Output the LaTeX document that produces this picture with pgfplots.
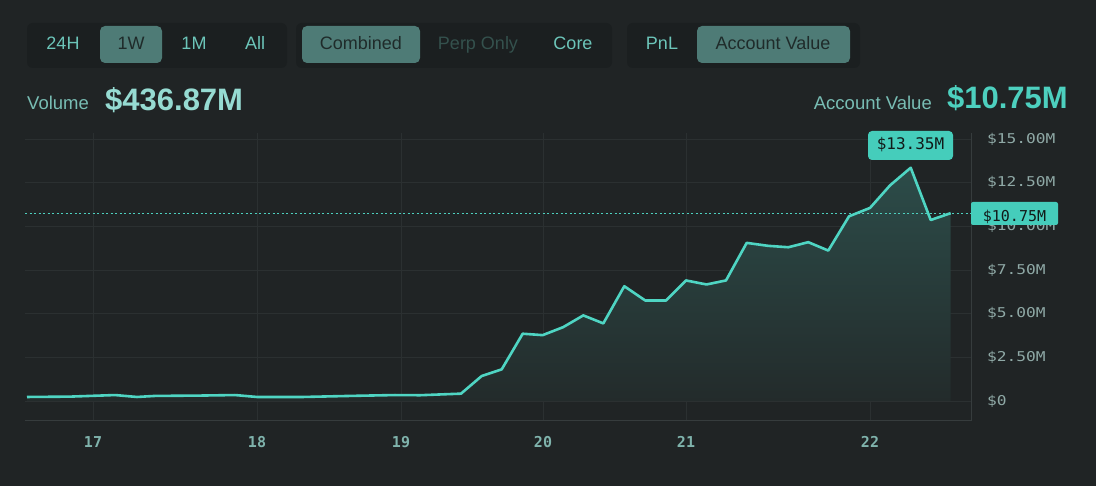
\documentclass[border=0pt]{standalone}
\usepackage{pgfplots}
\pgfplotsset{compat=1.18}
\usepackage{fontspec}
\setmainfont{Liberation Sans}
\newfontfamily\mono{DejaVu Sans Mono}
\newfontfamily\monow[FakeStretch=1.2]{DejaVu Sans Mono}
\definecolor{bgc}{HTML}{202425}
\definecolor{grp}{HTML}{1B1F20}
\definecolor{hl}{HTML}{4E7B76}
\definecolor{hltext}{HTML}{1F2B2A}
\definecolor{btn}{HTML}{6CC5B9}
\definecolor{dim}{HTML}{34514D}
\definecolor{lab}{HTML}{78BDB4}
\definecolor{vol}{HTML}{96DBD2}
\definecolor{acc}{HTML}{4DD0BF}
\definecolor{linec}{HTML}{4FD5C3}
\definecolor{ytl}{HTML}{8FA9A6}
\definecolor{xtl}{HTML}{7FB3AC}
\definecolor{gridc}{HTML}{2B3031}
\definecolor{framec}{HTML}{363C3D}
\definecolor{tip}{HTML}{45CDBB}
\definecolor{tiptext}{HTML}{121A19}
\definecolor{fillt}{HTML}{2C4C49}
\definecolor{fillb}{HTML}{232B2B}
\begin{document}
\begin{tikzpicture}[x=1pt,y=1pt]
\fill[bgc] (0,0) rectangle (1096,486);
% button groups
\fill[grp, rounded corners=6pt] (27,418) rectangle (287,463);
\fill[grp, rounded corners=6pt] (296,418) rectangle (612,463);
\fill[grp, rounded corners=6pt] (627,418) rectangle (860,463);
\fill[hl, rounded corners=5pt] (100,423) rectangle (162,460);
\fill[hl, rounded corners=5pt] (302,423) rectangle (420,460);
\fill[hl, rounded corners=5pt] (697,423) rectangle (850,460);
\begin{scope}[every node/.style={font=\fontsize{18}{20}\selectfont, inner sep=0pt, anchor=base}]
\node[text=btn] at (63,436.6) {24H};
\node[text=hltext] at (131,436.6) {1W};
\node[text=btn] at (194,436.6) {1M};
\node[text=btn] at (255,436.6) {All};
\node[text=hltext] at (361,436.6) {Combined};
\node[text=dim] at (478,436.6) {Perp Only};
\node[text=btn] at (573,436.6) {Core};
\node[text=btn] at (662,436.6) {PnL};
\node[text=hltext] at (773,436.6) {Account Value};
\end{scope}
% headline values
\node[anchor=base west, inner sep=0pt, text=lab, font=\fontsize{18.5}{20}\selectfont] at (27,376) {Volume};
\node[anchor=base west, inner sep=0pt, text=vol, font=\bfseries\fontsize{31}{33}\selectfont] at (105,375) {\$436.87M};
\node[anchor=base east, inner sep=0pt, text=lab, font=\fontsize{18.5}{20}\selectfont] at (932,376) {Account Value};
\node[anchor=base east, inner sep=0pt, text=acc, font=\bfseries\fontsize{31}{33}\selectfont] at (1068,377) {\$10.75M};
\begin{axis}[
  at={(25pt,353pt)}, anchor=north west, scale only axis,
  width=946pt, height=288pt,
  xmin=25, xmax=971, ymin=-1.145, ymax=15.34,
  axis x line*=bottom, axis y line*=right,
  axis line style={framec, line width=1pt, -},
  xtick={93,257,401,543,686,870},
  xticklabels={17,18,19,20,21,22},
  ytick={0,2.5,5,7.5,10,12.5,15},
  yticklabels={\$0,\$2.50M,\$5.00M,\$7.50M,\$10.00M,\$12.50M,\$15.00M},
  major tick length=0pt,
  grid=major,
  major grid style={gridc, line width=0.8pt},
  yticklabel style={anchor=west, xshift=16pt, inner sep=0pt, text=ytl, font=\monow\fontsize{13.5}{13.5}\selectfont},
  xticklabel style={anchor=north, yshift=-15.5pt, inner sep=0pt, text=xtl, font=\mono\bfseries\fontsize{15}{15}\selectfont},
]
\addplot[draw=none, top color=fillt, bottom color=fillb] coordinates {
(27,0.23) (70,0.25) (115,0.34) (137,0.23) (155,0.29) (200,0.31) (235,0.34) (257,0.23) (303,0.23) (350,0.29) (395,0.34) (420,0.33) (461,0.42) (481.7,1.43) (501.7,1.81) (522.7,3.85) (542.7,3.77) (563.3,4.23) (583.3,4.9) (603.3,4.44) (624.3,6.57) (645.3,5.75) (666,5.75) (686,6.9) (706.5,6.67) (726,6.9) (746.7,9.05) (768.3,8.88) (788.3,8.8) (808.3,9.09) (828.3,8.61) (849,10.57) (870,11.05) (890,12.34) (910.7,13.35) (930.7,10.36) (950.7,10.75)
} \closedcycle;
\addplot[linec, line width=2.6pt, line join=round] coordinates {
(27,0.23) (70,0.25) (115,0.34) (137,0.23) (155,0.29) (200,0.31) (235,0.34) (257,0.23) (303,0.23) (350,0.29) (395,0.34) (420,0.33) (461,0.42) (481.7,1.43) (501.7,1.81) (522.7,3.85) (542.7,3.77) (563.3,4.23) (583.3,4.9) (603.3,4.44) (624.3,6.57) (645.3,5.75) (666,5.75) (686,6.9) (706.5,6.67) (726,6.9) (746.7,9.05) (768.3,8.88) (788.3,8.8) (808.3,9.09) (828.3,8.61) (849,10.57) (870,11.05) (890,12.34) (910.7,13.35) (930.7,10.36) (950.7,10.75)
};
\addplot[acc, line width=1.1pt, dash pattern=on 2pt off 2.5pt] coordinates {(25,10.75) (971,10.75)};
\end{axis}
% value tags
\fill[tip, rounded corners=2pt] (971,261) rectangle (1058,284);
\node[anchor=base, inner sep=0pt, text=tiptext, font=\mono\fontsize{15}{15}\selectfont] at (1014.5,264.5) {\$10.75M};
\fill[tip, rounded corners=4pt] (868,326) rectangle (953,355);
\node[anchor=base, inner sep=0pt, text=tiptext, font=\mono\fontsize{16}{16}\selectfont] at (910.5,336.5) {\$13.35M};
\pgfresetboundingbox
\path[use as bounding box] (0,0) rectangle (1096,486);
\end{tikzpicture}
\end{document}
